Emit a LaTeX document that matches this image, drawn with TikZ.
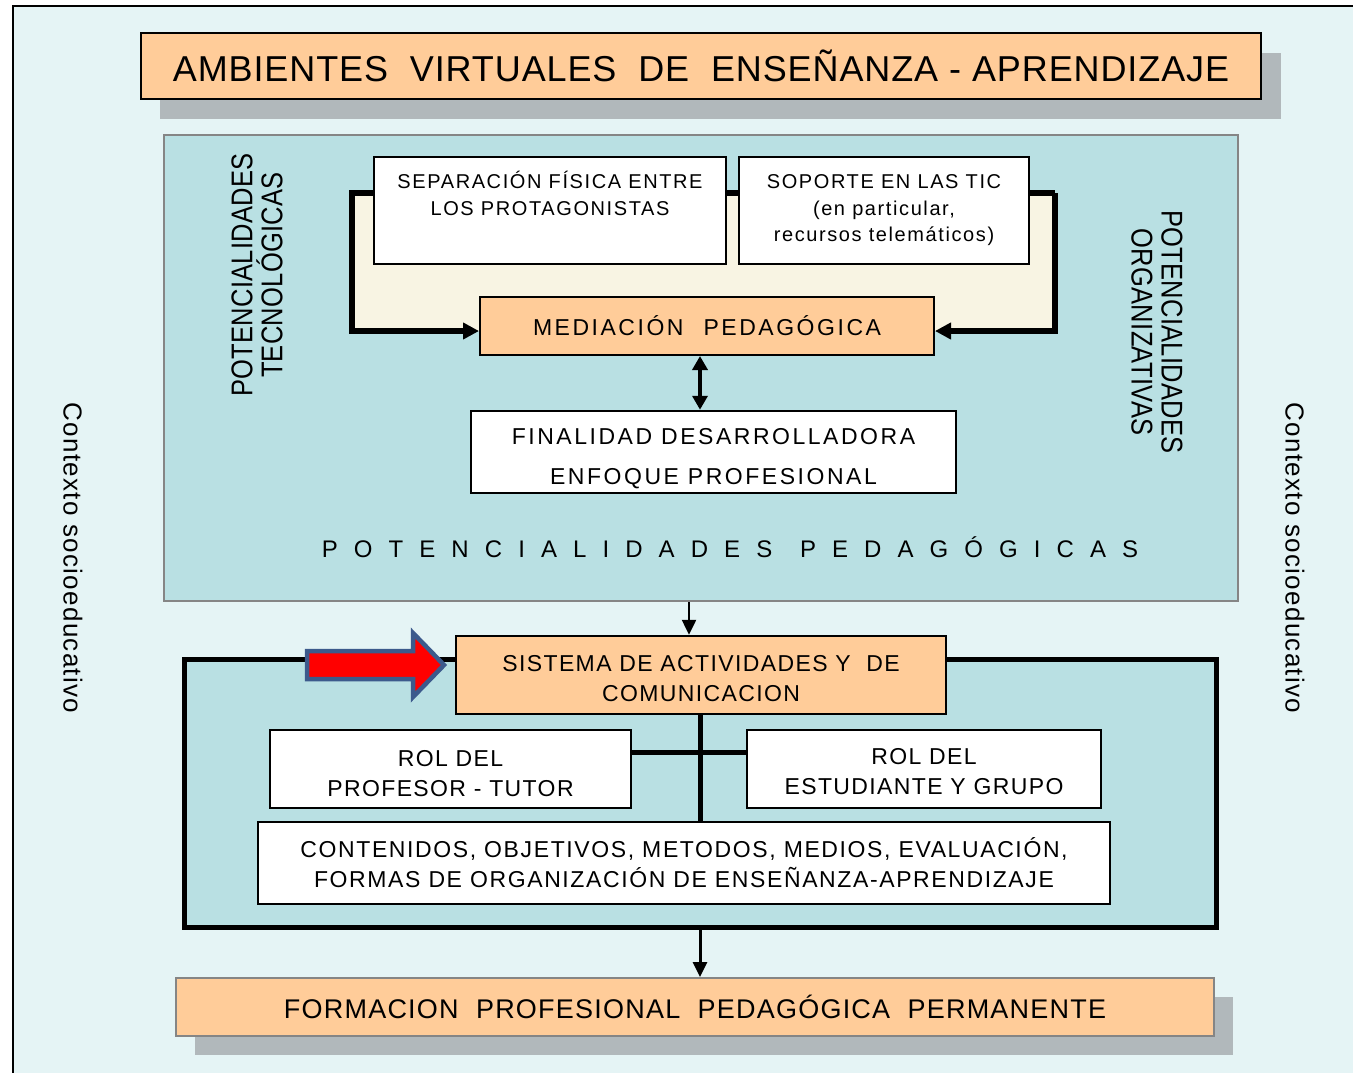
\documentclass[tikz,border=0pt]{standalone}
\usepackage{fontspec}
\setmainfont{Liberation Sans}
\newfontfamily\condfont{Liberation Sans}[FakeStretch=0.85]
\usetikzlibrary{arrows.meta}
\definecolor{bgc}{HTML}{E5F4F5}
\definecolor{panelc}{HTML}{B9E0E3}
\definecolor{orangec}{HTML}{FFCC99}
\definecolor{creamc}{HTML}{F8F4E3}
\definecolor{shadowc}{HTML}{B1B8BB}
\definecolor{pgray}{HTML}{858585}
\definecolor{arrowblue}{HTML}{3C5A8C}
\newcommand\fsz[3]{\fontsize{#1}{#2}\selectfont\addfontfeatures{LetterSpace=#3}}
\begin{document}
\begin{tikzpicture}[x=1pt,y=-1pt,
  box/.style={draw=black, line width=2pt, fill=white, inner sep=0pt, align=center, text=black},
  obox/.style={box, fill=orangec},
  lbl/.style={inner sep=0pt, align=center, text=black},
  conn/.style={line width=2.5pt, -{Triangle[length=15pt,width=14pt]}},
  brk/.style={line width=6pt, -{Triangle[length=16pt,width=16pt]}},
  tree/.style={line width=5pt}]
\useasboundingbox (0,0) rectangle (1353,1073);
\fill[white] (0,0) rectangle (1353,1073);
\fill[bgc] (13,6) rectangle (1353,1073);
\draw[line width=2.5pt] (13,1080) -- (13,6) -- (1360,6);

% title
\fill[shadowc] (160,53) rectangle (1281,119);
\node[obox, line width=2.5pt, minimum width=1120pt, minimum height=66pt, font=\fsz{36}{40}{2.5}] (title) at (701,66)
  {AMBIENTES\ \ VIRTUALES\ \ DE\ \ ENSEÑANZA - APRENDIZAJE};

% pedagogical panel
\node[draw=pgray, line width=2pt, fill=panelc, minimum width=1074pt, minimum height=466pt, inner sep=0pt] (ped) at (701,368) {};

% bracket
\coordinate (bTL) at (352,193);
\coordinate (bTR) at (1055,193);
\coordinate (bBL) at (352,331);
\coordinate (bBR) at (1055,331);
\fill[creamc] (bTL) rectangle (bBR);

\node[obox, minimum width=454pt, minimum height=58pt, font=\fsz{23}{26}{11}] (med) at (707,326)
  {MEDIACIÓN\hspace{20pt}PEDAGÓGICA};
\draw[brk] (bTR) -- (bTL) -- (bBL) -- (bBL -| med.west);
\draw[brk] (bTR) -- (bBR) -- (bBR -| med.east);

\node[box, minimum width=352pt, minimum height=107pt, font=\fsz{20}{26.5}{8}] (sep) at (550,210.5)
  {SEPARACIÓN FÍSICA ENTRE\\LOS PROTAGONISTAS\\\strut};
\node[box, minimum width=290pt, minimum height=107pt, font=\fsz{20}{26.5}{8}] (sop) at (884,210.5)
  {SOPORTE EN LAS TIC\\(en particular,\\recursos telemáticos)};

\node[box, line width=2.5pt, minimum width=485pt, minimum height=82pt, font=\fsz{23}{40}{11}] (fin) at (713.5,452)
  {\rule{0pt}{30pt}FINALIDAD DESARROLLADORA\\ENFOQUE PROFESIONAL};

\coordinate (xb) at (700,0);
\draw[line width=3.5pt, {Triangle[length=14pt,width=15pt]}-{Triangle[length=14pt,width=15pt]}] (med.south -| xb) -- (fin.north -| xb);

\node[lbl, font=\fsz{24}{28}{67}] (potped) at (730,547)
  {POTENCIALIDADES\hspace{5pt} PEDAGÓGICAS};

\node[lbl, rotate=90, font=\condfont\fsz{30}{30}{1}] (tec) at (257,275)
  {POTENCIALIDADES\\TECNOLÓGICAS};
\node[lbl, rotate=-90, font=\condfont\fsz{30}{30}{1}] (org) at (1157,332)
  {POTENCIALIDADES\\ORGANIZATIVAS};

\node[lbl, rotate=-90, font=\fsz{26}{30}{5}] (ctxL) at (73,558) {Contexto socioeducativo};
\node[lbl, rotate=-90, font=\fsz{26}{30}{5}] (ctxR) at (1295,558) {Contexto socioeducativo};

% lower panel
\node[draw=black, line width=5pt, fill=panelc, minimum width=1032pt, minimum height=268pt, inner sep=0pt] (low) at (700,793) {};

\node[obox, line width=2.5pt, minimum width=490pt, minimum height=78pt, font=\fsz{23}{30}{6}] (sis) at (701,675)
  {\rule{0pt}{23pt}SISTEMA DE ACTIVIDADES Y\ \ DE\\COMUNICACION};

\coordinate (xa) at (689,0);
\draw[conn] (ped.south -| xa) -- (sis.north -| xa);

\node[box, minimum width=361pt, minimum height=78pt, font=\fsz{23}{30}{6}] (prof) at (450.5,769)
  {\rule{0pt}{25pt}ROL DEL\\PROFESOR - TUTOR};
\node[box, minimum width=354pt, minimum height=78pt, font=\fsz{23}{30}{6}] (est) at (924,769)
  {\rule{0pt}{22pt}ROL DEL\\ESTUDIANTE Y GRUPO};
\node[box, minimum width=852pt, minimum height=82pt, font=\fsz{23}{30}{7}] (cont) at (684,863)
  {CONTENIDOS, OBJETIVOS, METODOS, MEDIOS, EVALUACIÓN,\\FORMAS DE ORGANIZACIÓN DE ENSEÑANZA-APRENDIZAJE};

\coordinate (yc) at (0,752);
\draw[tree] (sis.south -| xb) -- (cont.north -| xb);
\draw[tree] (prof.east |- yc) -- (est.west |- yc);

% red arrow
\filldraw[fill=red, draw=arrowblue, line width=4.5pt, line join=miter]
  (307,651) -- (413,651) -- (413,633) -- (444,665) -- (413,697) -- (413,679) -- (307,679) -- cycle;

% bottom
\fill[shadowc] (195,997) rectangle (1233,1055);
\node[obox, draw=pgray, minimum width=1038pt, minimum height=58pt, font=\fsz{27}{30}{4.5}] (form) at (695,1007)
  {FORMACION\ \ PROFESIONAL\ \ PEDAGÓGICA\ \ PERMANENTE};
\draw[conn, line width=3pt] (low.south -| xb) -- (form.north -| xb);
\end{tikzpicture}
\end{document}
